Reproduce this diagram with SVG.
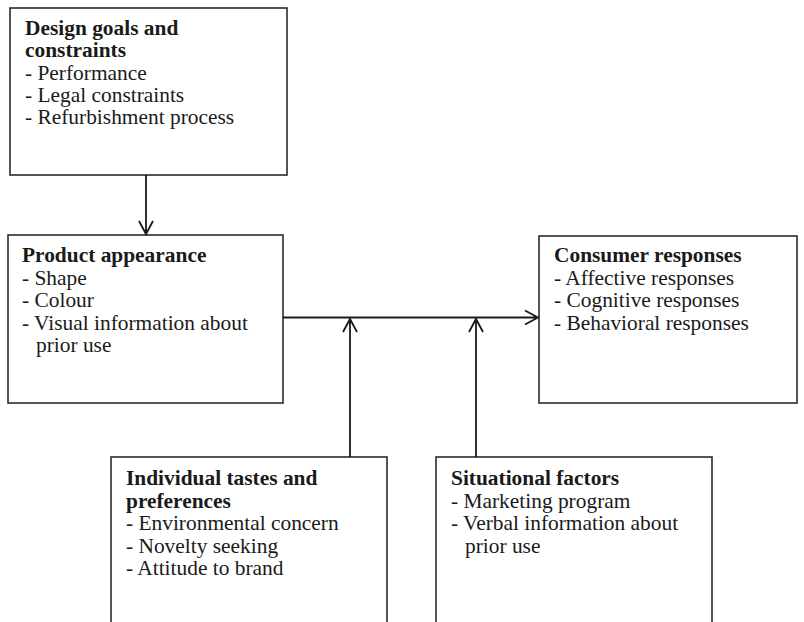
<svg xmlns="http://www.w3.org/2000/svg" width="804" height="622" viewBox="0 0 804 622">
<style>
.box{fill:#fff;stroke:#2b2b2b;stroke-width:1.6}
.t{font-family:"Liberation Serif","Times New Roman",serif;font-size:21.4px;fill:#1a1a1a}
.b{font-weight:bold}
.c{fill:none;stroke:#1a1a1a;stroke-width:1.8}
</style>
<rect width="804" height="622" fill="#fff"/>
<g id="design">
<rect class="box" x="10" y="8" width="277" height="167"/>
<text class="t b" x="25" y="35">Design goals and</text>
<text class="t b" x="25" y="57">constraints</text>
<text class="t" x="25" y="80">- Performance</text>
<text class="t" x="25" y="102">- Legal constraints</text>
<text class="t" x="25" y="124">- Refurbishment process</text>
</g>
<g id="product">
<rect class="box" x="8" y="235" width="275" height="168"/>
<text class="t b" x="22" y="262">Product appearance</text>
<text class="t" x="22" y="284.5">- Shape</text>
<text class="t" x="22" y="307">- Colour</text>
<text class="t" x="22" y="329.5">- Visual information about</text>
<text class="t" x="36" y="352">prior use</text>
</g>
<g id="consumer">
<rect class="box" x="539" y="236" width="258" height="167"/>
<text class="t b" x="554" y="262">Consumer responses</text>
<text class="t" x="554" y="284.5">- Affective responses</text>
<text class="t" x="554" y="307">- Cognitive responses</text>
<text class="t" x="554" y="329.5">- Behavioral responses</text>
</g>
<g id="individual">
<rect class="box" x="111" y="457" width="276" height="200"/>
<text class="t b" x="126" y="485">Individual tastes and</text>
<text class="t b" x="126" y="507.5">preferences</text>
<text class="t" x="126" y="530">- Environmental concern</text>
<text class="t" x="126" y="552.5">- Novelty seeking</text>
<text class="t" x="126" y="575">- Attitude to brand</text>
</g>
<g id="situational">
<rect class="box" x="436" y="457" width="276" height="200"/>
<text class="t b" x="451" y="485">Situational factors</text>
<text class="t" x="451" y="507.5">- Marketing program</text>
<text class="t" x="451" y="530">- Verbal information about</text>
<text class="t" x="465" y="552.5">prior use</text>
</g>
<g id="connectors">
<path class="c" d="M146 175V234M139 221L146 234L153 221"/>
<path class="c" d="M283 317.5H538M525 310.5L538 317.5L525 324.5"/>
<path class="c" d="M350 457V319M343 332L350 319L357 332"/>
<path class="c" d="M476 457V319M469 332L476 319L483 332"/>
</g>
</svg>
